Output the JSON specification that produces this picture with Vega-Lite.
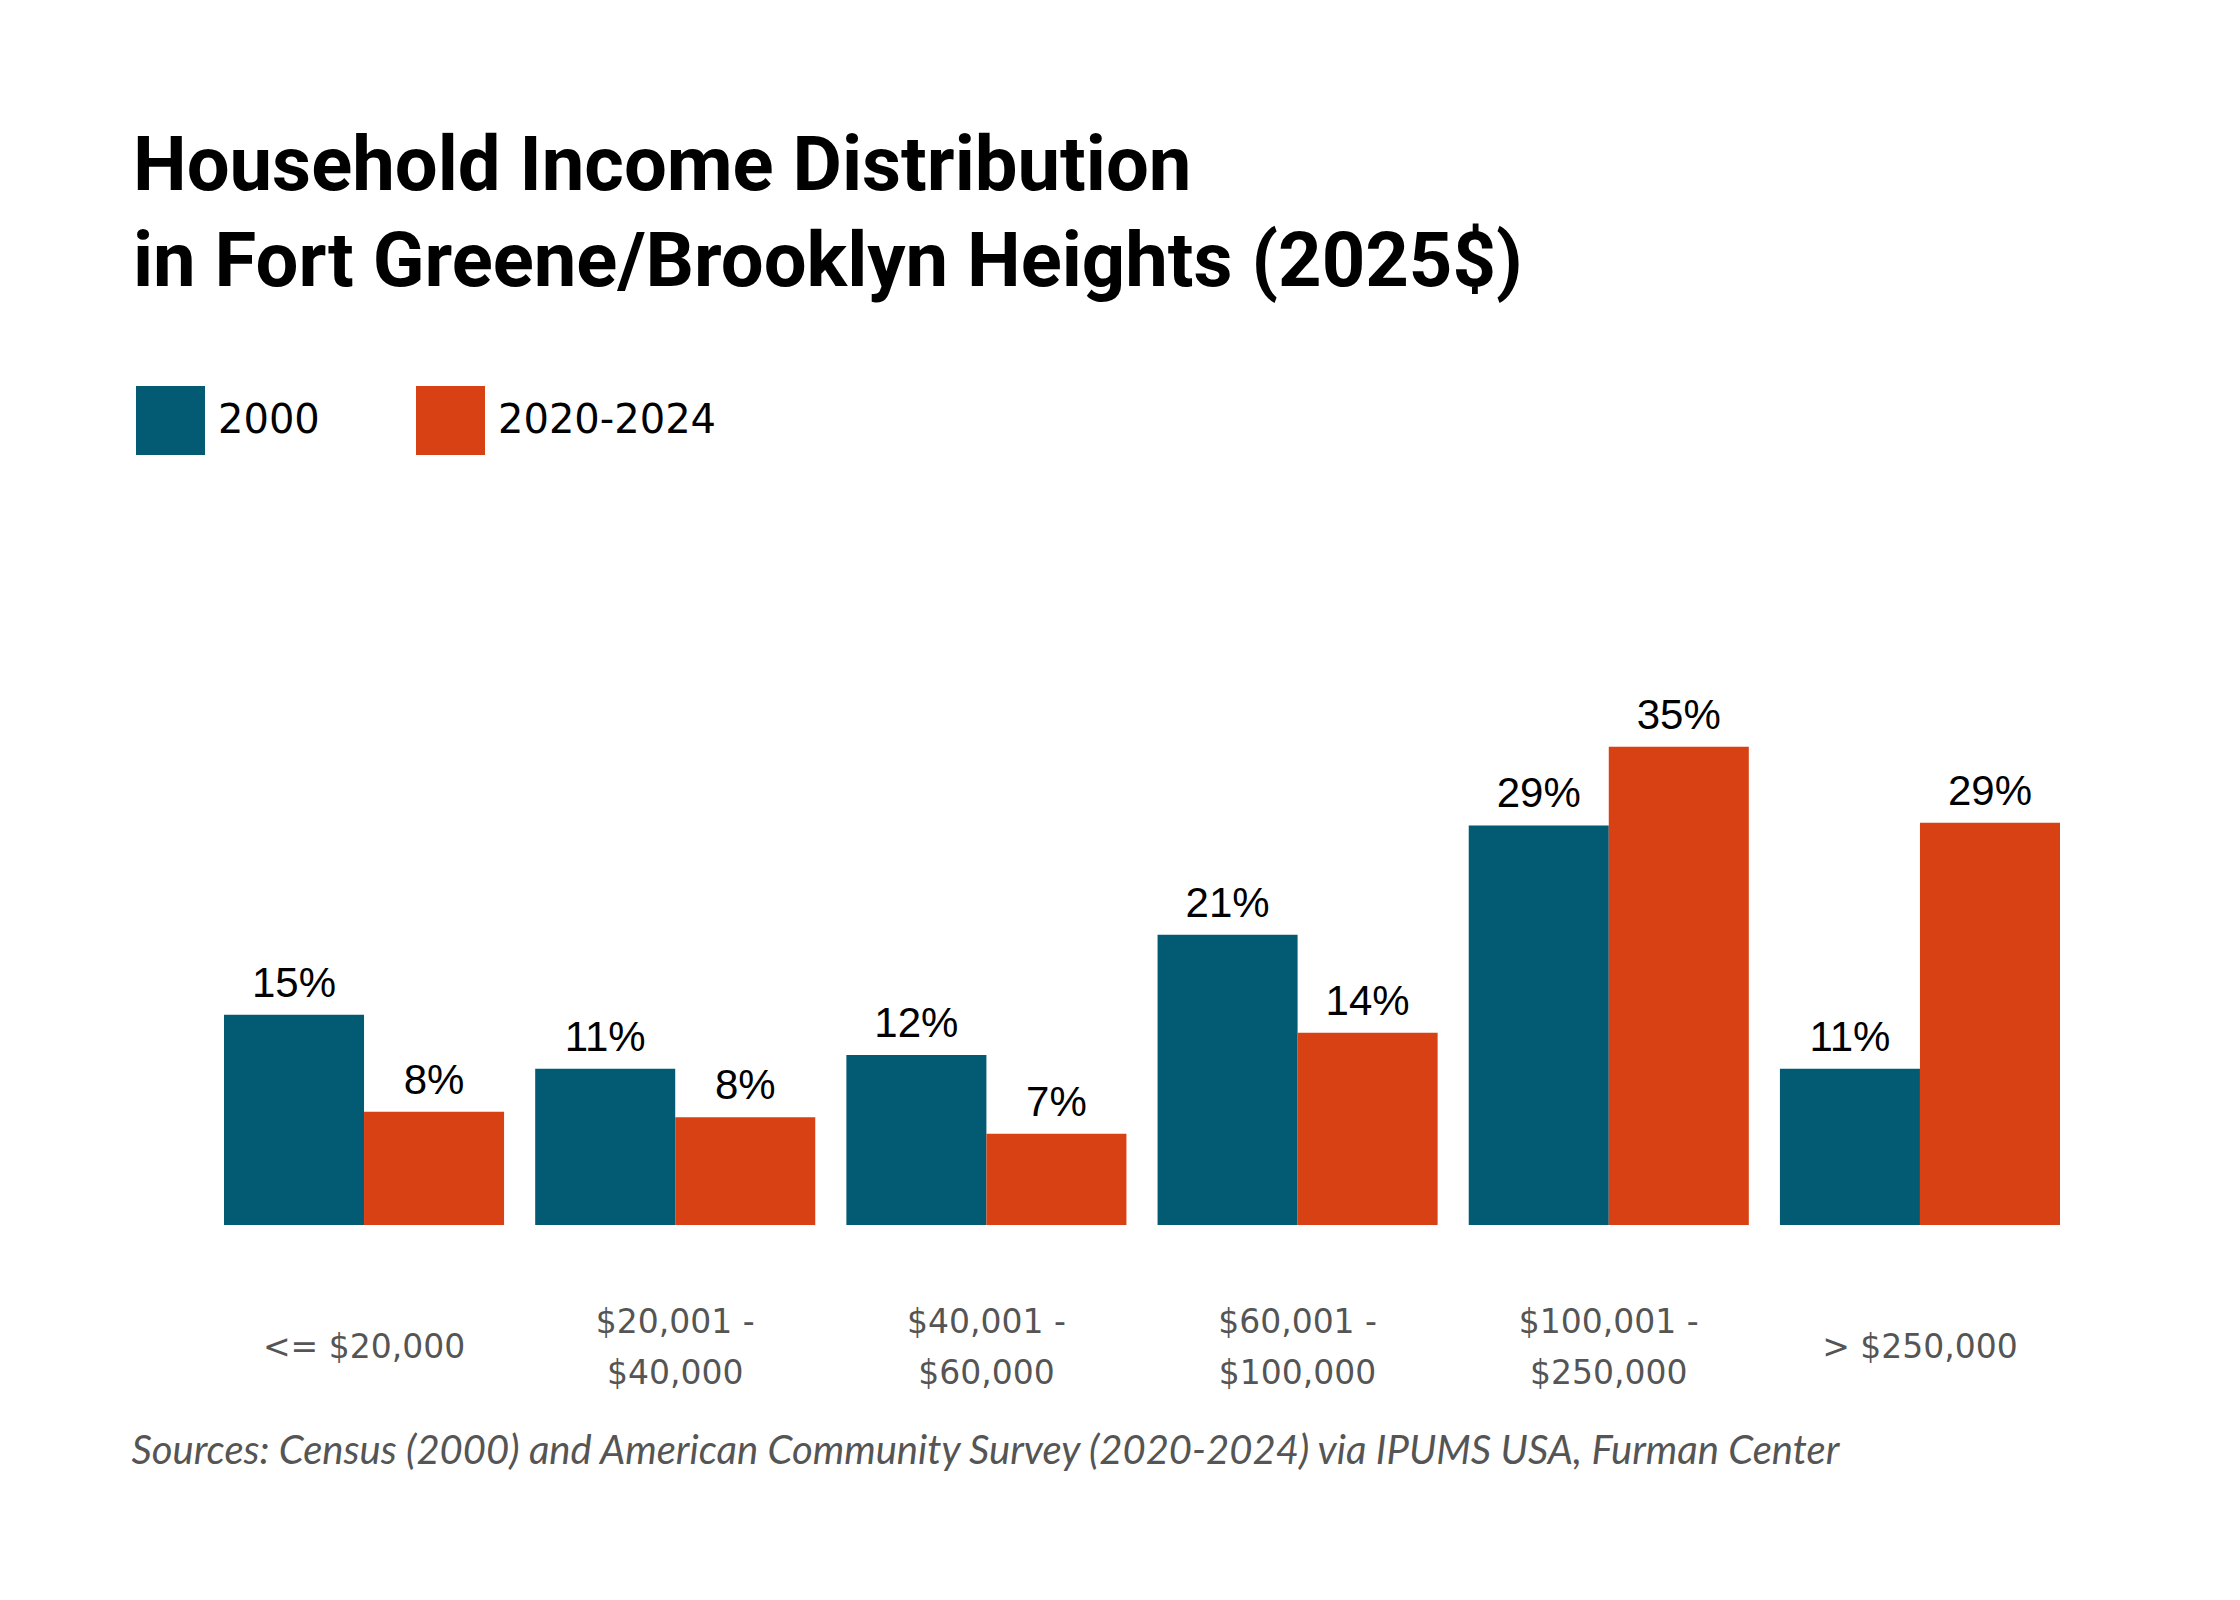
{
  "$schema": "https://vega.github.io/schema/vega-lite/v6.json",
  "width": 1836,
  "height": 553,
  "autosize": {"type": "none"},
  "padding": {"left": 224, "top": 672, "right": 180, "bottom": 375},
  "background": "white",
  "title": {
    "text": ["Household Income Distribution", "in Fort Greene/Brooklyn Heights (2025$)"],
    "anchor": "start",
    "frame": "group",
    "font": "Roboto",
    "fontSize": 76,
    "fontWeight": "bold",
    "color": "#000000",
    "lineHeight": 96,
    "baseline": "alphabetic",
    "dx": -91,
    "offset": 24
  },
  "data": {
    "values": [
      {"income": "<= $20,000", "period": "2000", "share": 0.152},
      {"income": "<= $20,000", "period": "2020-2024", "share": 0.082},
      {"income": "$20,001 - $40,000", "period": "2000", "share": 0.113},
      {"income": "$20,001 - $40,000", "period": "2020-2024", "share": 0.078},
      {"income": "$40,001 - $60,000", "period": "2000", "share": 0.123},
      {"income": "$40,001 - $60,000", "period": "2020-2024", "share": 0.066},
      {"income": "$60,001 - $100,000", "period": "2000", "share": 0.21},
      {"income": "$60,001 - $100,000", "period": "2020-2024", "share": 0.139},
      {"income": "$100,001 - $250,000", "period": "2000", "share": 0.289},
      {"income": "$100,001 - $250,000", "period": "2020-2024", "share": 0.346},
      {"income": "> $250,000", "period": "2000", "share": 0.113},
      {"income": "> $250,000", "period": "2020-2024", "share": 0.291}
    ]
  },
  "encoding": {
    "x": {
      "field": "income",
      "type": "nominal",
      "sort": null,
      "scale": {"paddingInner": 0.1, "paddingOuter": 0},
      "axis": {
        "title": "Sources: Census (2000) and American Community Survey (2020-2024) via IPUMS USA, Furman Center",
        "labelExpr": "indexof(datum.label, ' - ') > 0 ? [slice(datum.label, 0, indexof(datum.label, ' - ') + 2), slice(datum.label, indexof(datum.label, ' - ') + 3)] : datum.label",
        "labelFont": "DejaVu Sans",
        "labelFontSize": 33,
        "labelColor": "#555555",
        "labelAngle": 0,
        "labelBaseline": "middle",
        "labelLineHeight": 51,
        "labelPadding": {"condition": {"test": "indexof(datum.label, ' - ') > 0", "value": 97}, "value": 122},
        "labelLimit": 310,
        "labelOverlap": false,
        "ticks": false,
        "tickSize": 0,
        "domain": false,
        "titleFont": "Lato",
        "titleFontStyle": "italic",
        "titleFontWeight": "normal",
        "titleFontSize": 40,
        "titleColor": "#555555",
        "titleAnchor": "start",
        "titleAlign": "left",
        "titleBaseline": "alphabetic",
        "titleX": -93,
        "titleY": 238
      }
    },
    "xOffset": {"field": "period", "type": "nominal", "scale": {"paddingInner": 0}},
    "y": {"field": "share", "type": "quantitative", "scale": {"domain": [0, 0.4]}, "axis": null}
  },
  "layer": [
    {
      "mark": {"type": "bar"},
      "encoding": {
        "color": {
          "field": "period",
          "type": "nominal",
          "scale": {"domain": ["2000", "2020-2024"], "range": ["#035B73", "#D84114"]},
          "legend": {
            "orient": "none",
            "legendX": -88,
            "legendY": -286,
            "direction": "horizontal",
            "title": null,
            "symbolType": "square",
            "symbolSize": 4761,
            "symbolStrokeWidth": 0,
            "symbolOpacity": 1,
            "labelFont": "DejaVu Sans",
            "labelFontSize": 40,
            "labelColor": "#000000",
            "labelOffset": 13,
            "labelLimit": 400,
            "columnPadding": 96
          }
        }
      }
    },
    {
      "mark": {"type": "text", "baseline": "alphabetic", "dy": -18, "font": "Liberation Sans", "fontSize": 42, "color": "#000000"},
      "encoding": {"text": {"field": "share", "type": "quantitative", "format": ".0%"}}
    }
  ],
  "config": {"view": {"stroke": null}}
}
